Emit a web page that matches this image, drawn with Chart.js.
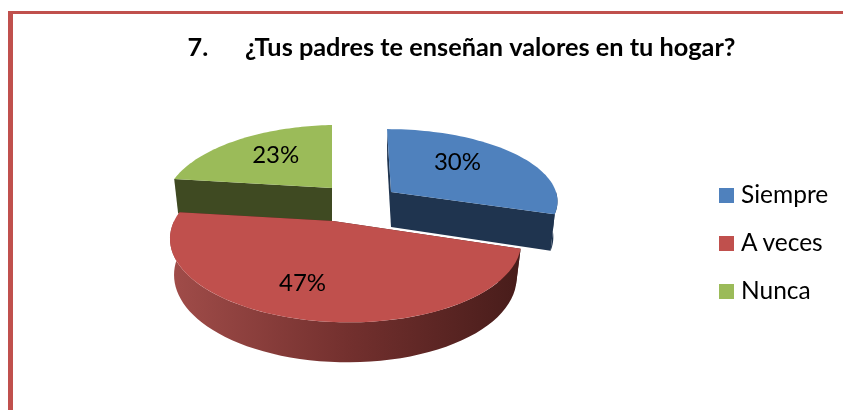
<!DOCTYPE html>
<html>
<head>
<meta charset="utf-8">
<style>
  html, body { margin: 0; padding: 0; background: #fff; overflow: hidden; }
  #frame { position: absolute; left: 8px; top: 11px; right: 0; bottom: 0; border-top: 3px solid #C0504D; border-left: 5px solid #C0504D; }
  #wrap { position: absolute; left: 0; top: 0; width: 843px; height: 410px; }
  #legend { position: absolute; left: 719px; top: 171px; margin: 0; padding: 0; list-style: none; font: 24.5px Lato, sans-serif; color: #000; }
  #legend li { display: flex; align-items: center; height: 48px; }
  #legend i { display: block; width: 15px; height: 15px; margin-right: 7px; }
  #legend span { position: relative; top: -2px; }
</style>
<script src="https://cdn.jsdelivr.net/npm/chart.js@4"></script>
</head>
<body>
<div id="frame"></div>
<div id="wrap"><canvas id="pie" width="843" height="410"></canvas></div>
<ul id="legend"></ul>
<script>
const categories = ["Siempre", "A veces", "Nunca"];
const percents = [30, 47, 23];
const chartTitle = "7.      ¿Tus padres te enseñan valores en tu hogar?";

const topColors = ["#4F81BD", "#C0504D", "#9BBB59"];
const wallColors = ["#1F344F", "#4A1D1B", "#3F4A22"];

// how each slice is seen: shift from pie center, then a perspective per slice
// (the blue one is pulled out and sits flatter)
const sliceViews = [
    {dx: -70.5, dy: -49, kx: 1.65, ky: 0.696, skew: 0.044, p: 0, q: -0.107, labelAt: 0.5, nudge: [3, -10]},
    {dx: -128.5, dy: -20, kx: 1.7, ky: 0.776, skew: 0, p: -0.07, q: -0.232, labelAt: 0.7, nudge: [0, 0]},
    {dx: -129.5, dy: -53, kx: 1.73, ky: 0.776, skew: 0, p: -0.059, q: -0.232, labelAt: 0.55, nudge: [0, -4]}
];
const drawOrder = [0, 2, 1];

function project(arc, view, u, v, low) {
    const r = arc.outerRadius;
    const w = 1 + view.p * u + view.q * v;
    let x = r * (view.kx * u + view.skew * v) / w;
    let y = r * view.ky * v / w;
    if (low) {
        x = x * 0.975;
        y = y + 35 + 5 * v;
    }
    return {x: arc.x + view.dx + x, y: arc.y + view.dy + y};
}

function traceRim(ctx, arc, view, from, to, low, first) {
    const steps = 60;
    for (let i = 0; i <= steps; i++) {
        const a = from + (to - from) * i / steps;
        const pt = project(arc, view, Math.cos(a), Math.sin(a), low);
        if (first && i == 0) ctx.moveTo(pt.x, pt.y);
        else ctx.lineTo(pt.x, pt.y);
    }
}

function drawWall(ctx, arc, view, a, color) {
    const u = Math.cos(a), v = Math.sin(a);
    const pts = [project(arc, view, 0, 0, false), project(arc, view, u, v, false),
                 project(arc, view, u, v, true), project(arc, view, 0, 0, true)];
    ctx.fillStyle = color;
    ctx.beginPath();
    pts.forEach(function(p, i){ i ? ctx.lineTo(p.x, p.y) : ctx.moveTo(p.x, p.y); });
    ctx.closePath();
    ctx.fill();
}

const tiltedPie = {
    id: "tiltedPie",
    beforeDatasetsDraw(chart) {
        const ctx = chart.ctx;
        const arcs = chart.getDatasetMeta(0).data;
        ctx.save();
        drawOrder.forEach(function(i){
            const arc = arcs[i], view = sliceViews[i];
            drawWall(ctx, arc, view, arc.startAngle, wallColors[i]);
            drawWall(ctx, arc, view, arc.endAngle, wallColors[i]);

            // outer side of the slice, only the part facing us
            const from = Math.max(arc.startAngle, 0), to = Math.min(arc.endAngle, Math.PI);
            if (to > from) {
                const shade = ctx.createLinearGradient(arc.x + view.dx - 160, 0, arc.x + view.dx + 190, 0);
                if (i == 1) {
                    shade.addColorStop(0, "#A04C49");
                    shade.addColorStop(0.5, "#73302E");
                    shade.addColorStop(1, "#471C1A");
                } else {
                    shade.addColorStop(0, wallColors[i]);
                    shade.addColorStop(1, wallColors[i]);
                }
                ctx.fillStyle = shade;
                ctx.beginPath();
                traceRim(ctx, arc, view, from, to, false, true);
                traceRim(ctx, arc, view, to, from, true, false);
                ctx.closePath();
                ctx.fill();
            }

            const apex = project(arc, view, 0, 0, false);
            ctx.fillStyle = topColors[i];
            ctx.beginPath();
            ctx.moveTo(apex.x, apex.y);
            traceRim(ctx, arc, view, arc.startAngle, arc.endAngle, false, false);
            ctx.closePath();
            ctx.fill();
        });

        ctx.font = "24px Lato, sans-serif";
        ctx.fillStyle = "#000";
        ctx.textAlign = "center";
        ctx.textBaseline = "middle";
        arcs.forEach(function(arc, i){
            const view = sliceViews[i];
            const mid = (arc.startAngle + arc.endAngle) / 2;
            const p = project(arc, view, Math.cos(mid) * view.labelAt, Math.sin(mid) * view.labelAt, false);
            ctx.fillText(percents[i] + "%", p.x + view.nudge[0], p.y + view.nudge[1]);
        });
        ctx.restore();
        return false;
    }
};

const chart = new Chart(document.getElementById("pie"), {
    type: "pie",
    data: {
        labels: categories,
        datasets: [{
            data: percents,
            backgroundColor: topColors,
            borderWidth: 0,
            radius: 100
        }]
    },
    options: {
        responsive: false,
        animation: false,
        layout: {padding: {left: 80}},
        plugins: {
            legend: {display: false},
            tooltip: {enabled: false},
            title: {
                display: true,
                text: chartTitle,
                color: "#000",
                font: {family: "Lato, sans-serif", size: 25.3, weight: "bold"},
                padding: {top: 33, bottom: 8.6}
            }
        }
    },
    plugins: [tiltedPie]
});

const legendBox = document.getElementById("legend");
chart.options.plugins.legend.labels.generateLabels(chart).forEach(function(item){
    const li = document.createElement("li");
    const swatch = document.createElement("i");
    swatch.style.background = item.fillStyle;
    const name = document.createElement("span");
    name.textContent = item.text;
    li.appendChild(swatch);
    li.appendChild(name);
    legendBox.appendChild(li);
});
</script>
</body>
</html>
